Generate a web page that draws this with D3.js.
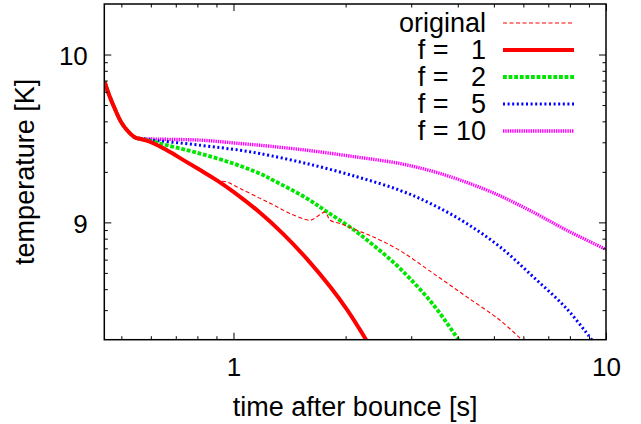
<!DOCTYPE html>
<html>
<head>
<meta charset="utf-8">
<script src="https://cdn.jsdelivr.net/npm/d3@7"></script>
<style>
  body { margin: 0; background: #fff; }
  svg { display: block; font-family: "Liberation Sans", Arial, Helvetica, sans-serif; }
</style>
</head>
<body>
<script>
// shared early part (all runs identical before the knee)
var earlyTime = [0.451, 0.462, 0.482, 0.502, 0.523, 0.545];
var earlyTemp = [6.87e9, 5.86e9, 4.66e9, 3.88e9, 3.46e9, 3.20e9];

// original run (thin dashed)
var origTime = [0.556, 0.598, 0.663, 0.734, 0.814, 0.903, 0.96, 1.042, 1.179, 1.28, 1.419, 1.606, 1.674, 1.762, 1.818, 1.933, 2.144, 2.375, 2.802, 3.44, 4.229, 5.195, 5.939];
var origTemp = [3.16e9, 3.02e9, 2.69e9, 2.35e9, 2.05e9, 1.78e9, 1.74e9, 1.59e9, 1.39e9, 1.27e9, 1.13e9, 1.03e9, 1.08e9, 1.15e9, 1.03e9, 9.84e8, 8.98e8, 8.19e8, 6.78e8, 4.96e8, 3.60e8, 2.61e8, 2.0e8];

// f = 1
var f1Time = [0.556, 0.598, 0.663, 0.734, 0.814, 0.903, 1.0, 1.179, 1.359, 1.574, 1.818, 2.015, 2.27];
var f1Temp = [3.16e9, 3.02e9, 2.69e9, 2.35e9, 2.05e9, 1.78e9, 1.52e9, 1.141e9, 8.54e8, 6.06e8, 4.13e8, 3.03e8, 2.0e8];

// f = 2
var f2Time = [0.586, 0.663, 0.814, 1.0, 1.179, 1.28, 1.574, 1.781, 2.057, 2.375, 2.802, 3.44, 4.015];
var f2Temp = [3.09e9, 2.88e9, 2.57e9, 2.24e9, 1.95e9, 1.78e9, 1.39e9, 1.157e9, 9.36e8, 7.31e8, 5.30e8, 3.23e8, 2.0e8];

// f = 5
var f5Time = [0.58, 0.814, 1.042, 1.179, 1.574, 2.144, 2.802, 3.44, 4.229, 5.195, 6.381, 7.844, 9.154];
var f5Temp = [3.13e9, 2.88e9, 2.69e9, 2.57e9, 2.24e9, 1.87e9, 1.55e9, 1.27e9, 9.84e8, 7.14e8, 4.73e8, 3.06e8, 2.0e8];

// f = 10
var f10Time = [0.58, 0.814, 1.042, 1.179, 1.574, 2.144, 2.802, 3.44, 4.229, 5.195, 6.381, 7.844, 10];
var f10Temp = [3.15e9, 3.09e9, 2.95e9, 2.88e9, 2.69e9, 2.45e9, 2.24e9, 2.01e9, 1.73e9, 1.44e9, 1.149e9, 8.98e8, 6.90e8];

var legendLabels = ['original', 'f =   1', 'f =   2', 'f =   5', 'f = 10'];
var xMajor = [1, 10];
var xMinor = [0.5, 0.6, 0.7, 0.8, 0.9, 2, 3, 4, 5, 6, 7, 8, 9];
var yMajor = [1e9, 1e10];
var yMinor = [3e8, 4e8, 5e8, 6e8, 7e8, 8e8, 9e8, 2e9, 3e9, 4e9, 5e9, 6e9, 7e9, 8e9, 9e9];

function makeSeries(ts, Ts) {
    var pts = earlyTime.map((t, i) => ({t: t, T: earlyTemp[i]}));
    ts.forEach((t, i) => pts.push({t: t, T: Ts[i]}));
    return pts;
}

var series = [
    {name: legendLabels[0], pts: makeSeries(origTime, origTemp), color: '#ff0000', width: 1.1, dash: '4,2.5'},
    {name: legendLabels[1], pts: makeSeries(f1Time, f1Temp), color: '#ff0000', width: 4, dash: null},
    {name: legendLabels[2], pts: makeSeries(f2Time, f2Temp), color: '#00e600', width: 3.8, dash: '3.8,1.8'},
    {name: legendLabels[3], pts: makeSeries(f5Time, f5Temp), color: '#0000ff', width: 3, dash: '2,2.6'},
    {name: legendLabels[4], pts: makeSeries(f10Time, f10Temp), color: '#ff00ff', width: 3.4, dash: '1.4,0.9'}
];

const svgWid = 641;
const svgHt = 424;
const margin = {top: 4, right: 35, bottom: 84.3, left: 104.3};
var innerW = svgWid - margin.left - margin.right;
var innerH = svgHt - margin.top - margin.bottom;

const svg = d3.select('body').append('svg').attr('width', svgWid).attr('height', svgHt);
const g = svg.append('g').attr('transform', `translate(${margin.left},${margin.top})`);

var xScale = d3.scaleLog().domain([0.45, 10]).range([0, innerW]);
var yScale = d3.scaleLog().domain([2e8, 2e10]).range([innerH, 0]);

const tickFont = 26;
const labelFont = 27;

// clip so curves stay in the frame
svg.append('defs').append('clipPath').attr('id', 'clip')
    .append('rect').attr('width', innerW).attr('height', innerH);

var line = d3.line().x(d => xScale(d.t)).y(d => yScale(d.T)).curve(d3.curveCatmullRom.alpha(0.5));

var curves = g.append('g').attr('clip-path', 'url(#clip)');
// draw back to front: f=10 first, original last
series.slice().reverse().forEach(s => {
    curves.append('path').datum(s.pts)
        .attr('d', line)
        .attr('fill', 'none')
        .attr('stroke', s.color)
        .attr('stroke-width', s.width)
        .attr('stroke-dasharray', s.dash);
});

// axes: ticks point inward, mirrored on top and right
function styleAxis(sel) {
    sel.select('.domain').remove();
    sel.selectAll('.tick line').attr('stroke', '#000').attr('stroke-width', 1);
    sel.selectAll('.tick text').attr('fill', '#000').attr('font-size', tickFont).attr('font-family', null);
}

var xLabelFmt = d => d3.format('d')(d);
var yLabelFmt = d => String(Math.round(Math.log10(d)));

g.append('g').attr('transform', `translate(0,${innerH})`)
    .call(d3.axisBottom(xScale).tickValues(xMajor).tickFormat(xLabelFmt).tickSize(-7).tickPadding(18))
    .call(styleAxis);
g.append('g').attr('transform', `translate(0,${innerH})`)
    .call(d3.axisBottom(xScale).tickValues(xMinor).tickFormat('').tickSize(-3.5))
    .call(styleAxis);
g.append('g')
    .call(d3.axisTop(xScale).tickValues(xMajor).tickFormat('').tickSize(-7))
    .call(styleAxis);
g.append('g')
    .call(d3.axisTop(xScale).tickValues(xMinor).tickFormat('').tickSize(-3.5))
    .call(styleAxis);

var yAxisG = g.append('g')
    .call(d3.axisLeft(yScale).tickValues(yMajor).tickFormat(yLabelFmt).tickSize(-7).tickPadding(16.5))
    .call(styleAxis);
yAxisG.selectAll('.tick text').attr('dy', '0.4em');
g.append('g')
    .call(d3.axisLeft(yScale).tickValues(yMinor).tickFormat('').tickSize(-3.5))
    .call(styleAxis);
g.append('g').attr('transform', `translate(${innerW},0)`)
    .call(d3.axisRight(yScale).tickValues(yMajor).tickFormat('').tickSize(-7))
    .call(styleAxis);
g.append('g').attr('transform', `translate(${innerW},0)`)
    .call(d3.axisRight(yScale).tickValues(yMinor).tickFormat('').tickSize(-3.5))
    .call(styleAxis);

// frame
g.append('rect').attr('width', innerW).attr('height', innerH)
    .attr('fill', 'none').attr('stroke', '#000').attr('stroke-width', 1.5);

// axis titles
svg.append('text').text('time after bounce [s]')
    .attr('x', margin.left + innerW / 2).attr('y', 416)
    .attr('text-anchor', 'middle').attr('font-size', labelFont);
svg.append('text').text('temperature [K]')
    .attr('transform', `translate(34,${margin.top + innerH / 2}) rotate(-90)`)
    .attr('text-anchor', 'middle').attr('font-size', labelFont);

// legend
var legend = svg.append('g');
series.forEach((s, i) => {
    var yy = 23 + i * 27;
    legend.append('text').text(s.name)
        .attr('x', 486).attr('y', yy + 9)
        .attr('text-anchor', 'end').attr('font-size', labelFont)
        .style('white-space', 'pre');
    legend.append('line')
        .attr('x1', 503).attr('x2', 574).attr('y1', yy).attr('y2', yy)
        .attr('stroke', s.color).attr('stroke-width', s.width)
        .attr('stroke-dasharray', s.dash);
});
</script>
</body>
</html>
